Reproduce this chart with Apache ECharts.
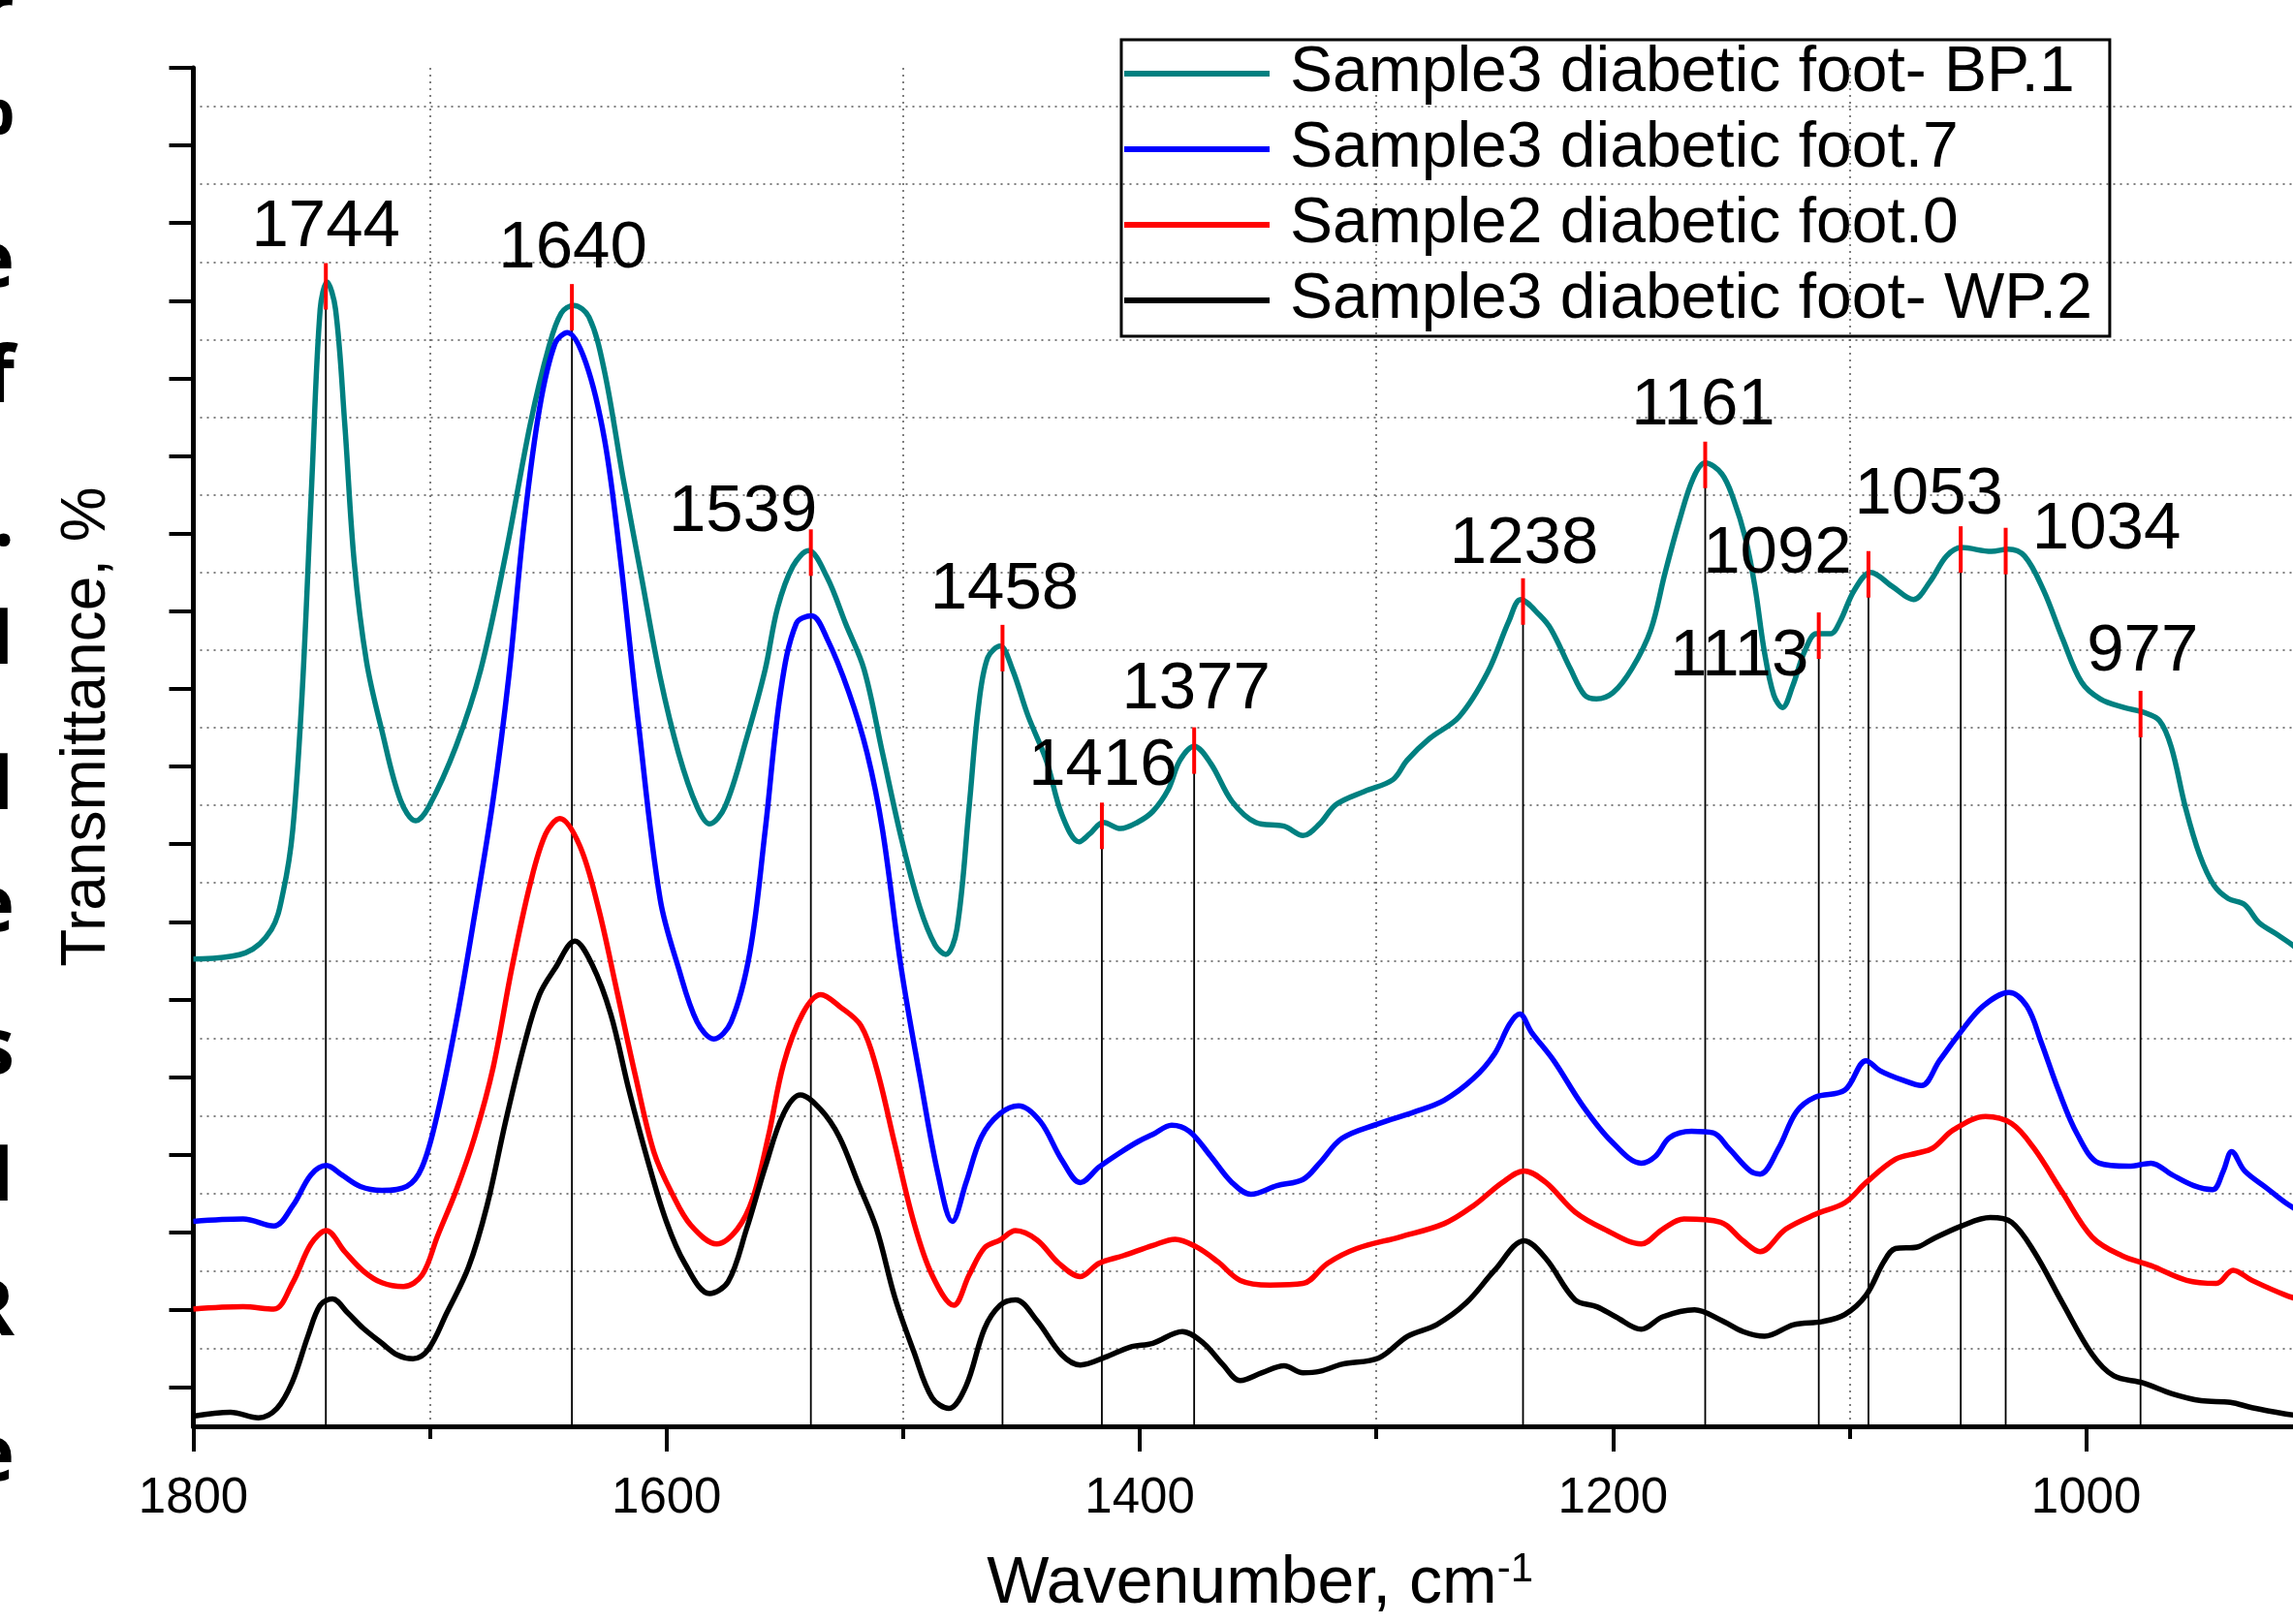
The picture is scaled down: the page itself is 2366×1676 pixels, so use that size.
<!DOCTYPE html>
<html>
<head>
<meta charset="utf-8">
<script src="https://cdn.jsdelivr.net/npm/echarts/dist/echarts.min.js"></script>
<style>
  html, body { margin: 0; padding: 0; background: #fff; }
  #main { width: 2366px; height: 1676px; }
</style>
</head>
<body>
<div id="main"></div>
<script>
// 光谱数据 [wavenumber, transmittance]
const seriesNames = [
  'Sample3 diabetic foot- BP.1',
  'Sample3 diabetic foot.7',
  'Sample2 diabetic foot.0',
  'Sample3 diabetic foot- WP.2'
]
const seriesColors = ['#008080', '#0000ff', '#ff0000', '#000000']

const bp1 = [[1800,5.52],[1778,5.60],[1767,5.90],[1762,6.39],[1758,7.18],[1754,8.95],[1750,11.62],[1746.4,13.89],[1743.5,14.24],[1739.9,13.89],[1736,12.41],[1732,10.63],[1726.8,9.35],[1720.3,8.46],[1712.5,7.57],[1706,7.30],[1700.7,7.47],[1689,8.26],[1678.5,9.25],[1668,10.73],[1657.6,12.41],[1649.8,13.40],[1644.5,13.84],[1639.3,13.94],[1632.8,13.79],[1626.3,13.10],[1618.4,11.72],[1610.6,10.44],[1602.7,9.15],[1594.9,8.17],[1587.1,7.48],[1581.8,7.26],[1575.3,7.48],[1566.2,8.36],[1558.3,9.25],[1553.1,10.04],[1546.6,10.58],[1540,10.78],[1532.2,10.44],[1524.3,9.84],[1516.5,9.25],[1508.7,8.17],[1500.8,7.08],[1493,6.19],[1486.5,5.70],[1482,5.58],[1477.3,5.90],[1472.1,7.48],[1468.2,8.76],[1464.3,9.40],[1459,9.55],[1453.8,9.25],[1447.3,8.66],[1439.4,8.07],[1432.9,7.38],[1425.6,7.03],[1421.2,7.13],[1415.4,7.28],[1408.1,7.20],[1401,7.28],[1394.5,7.42],[1388,7.70],[1383,8.08],[1377,8.26],[1370,8.04],[1361,7.55],[1351,7.28],[1339,7.23],[1331,7.11],[1324,7.26],[1317,7.51],[1305,7.68],[1293,7.83],[1287,8.08],[1277.5,8.36],[1265,8.64],[1253,9.21],[1244,9.87],[1239,10.15],[1231,9.95],[1226,9.76],[1218,9.26],[1212,8.92],[1207,8.87],[1200,8.95],[1192,9.26],[1184,9.76],[1178,10.49],[1172,11.16],[1166,11.72],[1161,11.91],[1154,11.77],[1149,11.44],[1144,10.94],[1140,10.32],[1136,9.48],[1132,8.92],[1128.3,8.76],[1124,9.04],[1119,9.48],[1114,9.71],[1108,9.71],[1104,9.87],[1098,10.27],[1091,10.50],[1082,10.32],[1073,10.15],[1066,10.38],[1059,10.71],[1052.6,10.82],[1040,10.77],[1033,10.80],[1026,10.71],[1018,10.27],[1010,9.65],[1002,9.09],[994,8.87],[984,8.76],[976,8.70],[969,8.59],[964,8.25],[958,7.47],[952,6.86],[946,6.47],[940,6.30],[933,6.22],[927,5.99],[920,5.85],[912,5.68],[906,5.5]]

const foot7 = [[1800,2.14],[1779,2.17],[1766,2.08],[1758,2.34],[1750.3,2.74],[1743.8,2.86],[1737.3,2.74],[1729.4,2.59],[1720.3,2.54],[1709.8,2.59],[1703.3,2.84],[1696.8,3.53],[1688.9,4.71],[1681.1,6.09],[1673.3,7.57],[1666.7,9.15],[1660.2,11.13],[1653.7,12.61],[1647.1,13.45],[1641.9,13.59],[1634.1,13.20],[1626.2,12.21],[1619.7,10.73],[1611.9,8.56],[1602.7,6.29],[1594.9,5.40],[1587.1,4.71],[1580,4.49],[1572.7,4.71],[1564.8,5.60],[1558.3,7.18],[1551.8,8.96],[1545.2,9.84],[1538.7,9.94],[1532.2,9.65],[1523,8.96],[1515.2,8.17],[1508.7,7.18],[1500.8,5.40],[1493,4.02],[1485.2,2.74],[1479.2,2.14],[1473.4,2.64],[1466.9,3.23],[1459,3.53],[1451.2,3.63],[1442.1,3.43],[1432.9,2.93],[1425.1,2.64],[1417.2,2.84],[1408.1,3.03],[1400.6,3.17],[1394.5,3.26],[1386.5,3.38],[1379,3.30],[1370,2.98],[1361,2.64],[1353,2.49],[1342,2.60],[1331,2.68],[1324,2.89],[1314.5,3.21],[1299,3.40],[1284,3.55],[1271.4,3.70],[1259,3.98],[1250,4.30],[1243.7,4.68],[1239.4,4.81],[1234.5,4.58],[1225,4.21],[1213,3.64],[1200.6,3.17],[1188,2.89],[1182,2.98],[1176,3.22],[1166.8,3.30],[1157.6,3.28],[1151,3.08],[1142,2.79],[1137.8,2.75],[1130,3.08],[1122.5,3.55],[1114.5,3.74],[1102,3.83],[1093,4.21],[1087,4.08],[1077.6,3.96],[1069.6,3.89],[1062,4.21],[1053,4.58],[1043.7,4.91],[1032.6,5.09],[1025,4.91],[1019,4.45],[1011.7,3.83],[1003.7,3.26],[994.5,2.89],[982,2.85],[972.6,2.89],[963.7,2.74],[954.5,2.60],[946.5,2.55],[942,2.79],[938.5,3.04],[933,2.79],[923.7,2.57],[915.7,2.38],[906,2.2]]

const foot0 = [[1800,1.01],[1779,1.04],[1766,1.01],[1758,1.35],[1750.3,1.85],[1743.8,2.02],[1736,1.75],[1728.1,1.50],[1720.3,1.35],[1711.2,1.30],[1703.3,1.45],[1696.8,1.95],[1688.9,2.54],[1681.1,3.23],[1673.3,4.12],[1665.4,5.40],[1657.6,6.49],[1651.1,7.13],[1645.1,7.33],[1636.7,6.98],[1628.9,6.19],[1621,5.11],[1613.2,4.02],[1605.3,3.03],[1597.5,2.49],[1589.7,2.09],[1578.7,1.85],[1570.1,2.04],[1563.5,2.44],[1557,3.23],[1550.5,4.17],[1542.6,4.81],[1534.8,5.06],[1526.9,4.91],[1517.8,4.66],[1511.3,4.12],[1503.5,3.13],[1495.6,2.14],[1487.8,1.45],[1478.6,1.06],[1472.1,1.45],[1465.6,1.80],[1459,1.90],[1452.5,2.02],[1443.4,1.90],[1434.2,1.60],[1425.1,1.43],[1417.2,1.60],[1406.8,1.70],[1394.5,1.83],[1385,1.91],[1376,1.81],[1367,1.62],[1357.5,1.38],[1345,1.32],[1331,1.34],[1320.6,1.60],[1308.3,1.79],[1290,1.94],[1271.4,2.11],[1259,2.34],[1246.8,2.64],[1237.5,2.79],[1228.3,2.64],[1216,2.26],[1203.7,2.04],[1188,1.85],[1179,2.04],[1170,2.17],[1154.5,2.13],[1145,1.89],[1137.8,1.75],[1127,2.04],[1114.5,2.23],[1102,2.38],[1093,2.64],[1080.6,2.94],[1071.4,3.02],[1065,3.08],[1056,3.32],[1042.5,3.49],[1031.5,3.40],[1022,3.08],[1010,2.51],[997.5,1.94],[985,1.70],[972.6,1.57],[957.5,1.38],[945,1.34],[937.9,1.51],[929.9,1.38],[915.7,1.19],[906,1.1]]

const wp2 = [[1800,-0.37],[1784.3,-0.32],[1772.5,-0.39],[1764.7,-0.27],[1758.2,0.07],[1751.6,0.66],[1746.4,1.06],[1741.2,1.14],[1734.7,0.96],[1728.1,0.76],[1720.3,0.57],[1713.8,0.42],[1707.2,0.37],[1700.7,0.49],[1692.9,0.96],[1683.7,1.55],[1675.9,2.34],[1668,3.43],[1660.2,4.41],[1653.7,5.06],[1647.1,5.40],[1638.8,5.75],[1631.5,5.45],[1623.6,4.81],[1615.8,3.82],[1608,2.93],[1600.1,2.14],[1592.3,1.60],[1581.8,1.21],[1574,1.36],[1566.2,2.04],[1558.3,2.84],[1550.5,3.53],[1543.4,3.77],[1534.8,3.58],[1527,3.23],[1519.1,2.64],[1511.3,2.05],[1503.5,1.16],[1495.6,0.47],[1487.8,-0.13],[1480.7,-0.27],[1473.4,0.02],[1465.6,0.76],[1459,1.06],[1452.5,1.13],[1443.4,0.86],[1432.9,0.42],[1425.1,0.29],[1414.6,0.39],[1404.2,0.52],[1394.5,0.57],[1382,0.72],[1373,0.57],[1365,0.30],[1357.5,0.09],[1348.3,0.19],[1339,0.28],[1331,0.19],[1323.7,0.21],[1314.5,0.30],[1299,0.38],[1286.8,0.66],[1274.5,0.81],[1262,1.09],[1250,1.51],[1237.5,1.89],[1228.3,1.66],[1216,1.13],[1206.8,1.04],[1198.8,0.91],[1188,0.75],[1179,0.91],[1165.5,1.00],[1154.5,0.87],[1145,0.72],[1135.9,0.66],[1123.6,0.81],[1111.4,0.85],[1102,0.94],[1093,1.19],[1085.5,1.62],[1080.6,1.79],[1071.4,1.81],[1065,1.91],[1052.8,2.08],[1040.5,2.19],[1031.5,2.13],[1022,1.75],[1010,1.09],[997.5,0.43],[988.3,0.15],[976,0.06],[963.7,-0.08],[951.4,-0.17],[939,-0.19],[929.9,-0.26],[915.7,-0.34],[906,-0.38]]

// 标注峰位
const peakWavenumbers = [1744, 1640, 1539, 1458, 1416, 1377, 1238, 1161, 1113, 1092, 1053, 1034, 977]
const peakValues = [14.21, 13.94, 10.78, 9.55, 7.26, 8.23, 10.15, 11.91, 9.71, 10.50, 10.82, 10.80, 8.70]
// 标签相对红线顶端的偏移 (px)
const peakLabelShift = [[0, -37], [1, -36], [-70, -17], [2, -36], [1, -37], [2, -39], [1, -35], [-2, -37], [-82, 46], [-94, 3], [-33, -32], [104, 2], [2, -40]]

// 坐标轴
const xTickLabels = ['1800', '1600', '1400', '1200', '1000']
const yMin = -0.5
const yMax = 17
const yTickSlots = []
for (let v = yMin; v <= yMax; v += 0.5) yTickSlots.push(String(v))

// 左侧被裁切的文字
const edgeGlyphs = [['r', 16], ['%', 115], ['e', 273], ['f', 391], ['.', 540], ['I', 662], ['I', 812], ['e', 938], ['s', 1085], ['I', 1216], ['R', 1355], ['e', 1505]]

const FONT = '"Liberation Sans", Arial, sans-serif'
const myChart = echarts.init(document.getElementById('main'))

function renderPeakLine(params, api) {
  const top = api.coord([api.value(0), api.value(1)])
  const bottom = api.coord([api.value(0), yMin])
  return {
    type: 'line',
    shape: { x1: top[0], y1: top[1], x2: bottom[0], y2: bottom[1] },
    style: { stroke: '#000', lineWidth: 1.8 }
  }
}

function renderPeakMark(params, api) {
  const p = api.coord([api.value(0), api.value(1)])
  const shift = peakLabelShift[params.dataIndex]
  return {
    type: 'group',
    children: [
      {
        type: 'line',
        shape: { x1: p[0], y1: p[1] - 22, x2: p[0], y2: p[1] + 26 },
        style: { stroke: '#ff0000', lineWidth: 4 }
      },
      {
        type: 'text',
        x: p[0] + shift[0],
        y: p[1] - 22 + shift[1],
        style: {
          text: String(api.value(0)),
          fontSize: 69,
          fontFamily: FONT,
          fill: '#000',
          align: 'center',
          verticalAlign: 'middle'
        }
      }
    ]
  }
}

const dottedLine = { color: '#555', width: 1.5, type: [2, 5] }
const spectra = [bp1, foot7, foot0, wp2]

const option = {
  animation: false,
  backgroundColor: '#fff',
  grid: {
    left: 199.5,
    right: -274.8,
    top: 70,
    bottom: 204,
    containLabel: false,
    outerBoundsMode: 'none'
  },
  legend: {
    data: seriesNames,
    orient: 'vertical',
    left: 1157,
    top: 41,
    padding: [2, 18, 4, 3],
    itemGap: 12,
    itemWidth: 150,
    itemHeight: 6,
    icon: 'rect',
    borderColor: '#000',
    borderWidth: 3,
    textStyle: { fontSize: 66, fontFamily: FONT, color: '#000', lineHeight: 66, padding: [0, 0, 0, 16] }
  },
  xAxis: {
    type: 'value',
    inverse: true,
    min: 800,
    max: 1800,
    interval: 200,
    axisLine: { onZero: false, lineStyle: { color: '#000', width: 5 } },
    axisTick: { length: 26, lineStyle: { color: '#000', width: 4 } },
    minorTick: { show: true, splitNumber: 2, length: 13, lineStyle: { color: '#000', width: 4 } },
    axisLabel: {
      margin: 49,
      fontSize: 51,
      fontFamily: FONT,
      color: '#000',
      formatter: (v) => (xTickLabels.includes(String(v)) ? String(v) : '')
    },
    splitLine: { show: false },
    minorSplitLine: { show: true, lineStyle: dottedLine },
    name: '{t|Wavenumber, cm}{s|-1}',
    nameLocation: 'middle',
    nameGap: 127,
    nameTextStyle: {
      padding: [0, 240, 0, 0],
      rich: {
        t: { fontSize: 68, fontFamily: FONT, color: '#000', lineHeight: 72 },
        s: { fontSize: 42, fontFamily: FONT, color: '#000', lineHeight: 42, verticalAlign: 'top' }
      }
    }
  },
  yAxis: [
    {
      type: 'value',
      min: yMin,
      max: yMax,
      position: 'left',
      axisLine: { show: true, onZero: false, lineStyle: { color: '#000', width: 5 } },
      axisTick: { show: false },
      axisLabel: { show: false },
      splitLine: { show: false },
      name: 'Transmittance, %',
      nameLocation: 'middle',
      nameGap: 77,
      nameTextStyle: { fontSize: 64, fontFamily: FONT, color: '#000', padding: [0, 0, 0, 42] }
    },
    {
      // 只用来画刻度和虚线网格
      type: 'category',
      data: yTickSlots,
      boundaryGap: false,
      position: 'left',
      axisLine: { show: false },
      axisTick: { show: true, interval: (i) => i % 2 === 1, length: 25, lineStyle: { color: '#000', width: 4 } },
      axisLabel: { show: false },
      splitLine: { show: true, interval: (i) => i % 2 === 0 && i > 0, lineStyle: dottedLine }
    }
  ],
  graphic: edgeGlyphs.map((g) => ({
    type: 'text',
    x: 15,
    y: g[1],
    style: {
      text: g[0],
      fontSize: 80,
      fontWeight: 'bold',
      fontFamily: '"Open Sans", sans-serif',
      fill: '#000',
      align: 'right',
      verticalAlign: 'middle'
    }
  })),
  series: [
    {
      type: 'custom',
      name: 'peak lines',
      z: 1,
      clip: false,
      renderItem: renderPeakLine,
      encode: { x: 0, y: 1 },
      data: peakWavenumbers.map((w, i) => [w, peakValues[i]])
    },
    ...spectra.map((d, i) => ({
      name: seriesNames[i],
      type: 'line',
      z: 2,
      data: d,
      symbol: 'none',
      smooth: 0.35,
      color: seriesColors[i],
      lineStyle: { color: seriesColors[i], width: 5.5 }
    })),
    {
      type: 'custom',
      name: 'peak marks',
      z: 3,
      clip: false,
      renderItem: renderPeakMark,
      encode: { x: 0, y: 1 },
      data: peakWavenumbers.map((w, i) => [w, peakValues[i]])
    }
  ]
}

myChart.setOption(option)
</script>
</body>
</html>
